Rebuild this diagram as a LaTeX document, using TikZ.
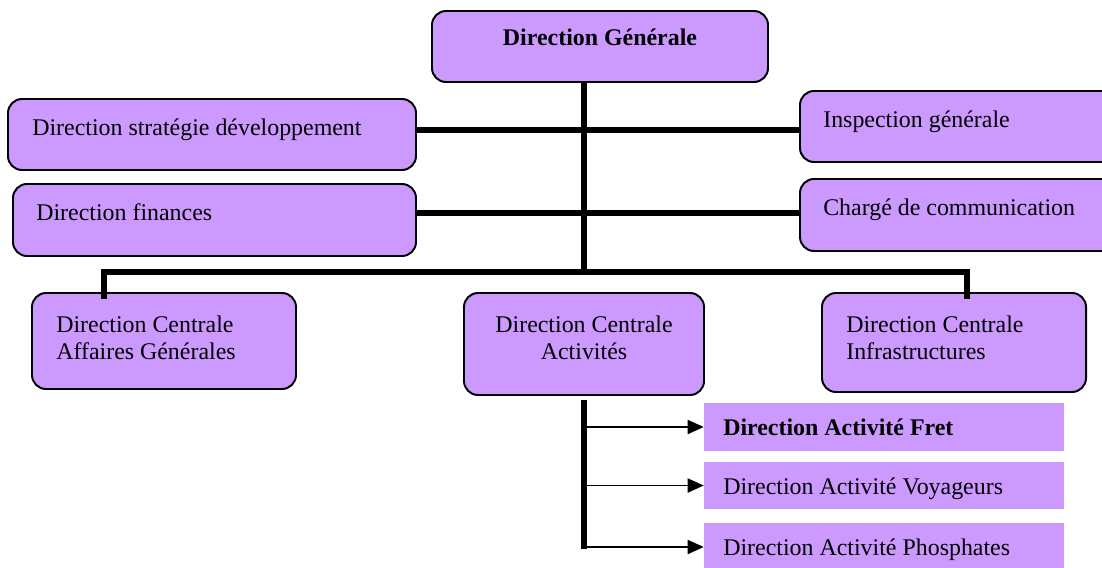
\documentclass[tikz,border=0pt]{standalone}
\usepackage{fontspec}
\setmainfont{Liberation Serif}
\usetikzlibrary{arrows.meta}
\definecolor{boxfill}{RGB}{204,153,255}
\def\pxu{0.025cm}
\tikzset{
  unit/.style={draw=black, line width=1.4pt, fill=boxfill, rounded corners=0.35cm, inner sep=0pt},
  sub/.style={fill=boxfill, draw=none, inner sep=0pt},
  txt/.style={font=\fontsize{17}{19.2}\selectfont, inner sep=0pt, anchor=base west, align=left},
  trunk/.style={line width=4pt},
  link/.style={line width=1.4pt, -{Triangle[length=11.5pt,width=10pt]}}
}
\begin{document}
\begin{tikzpicture}[x=0.025cm, y=-0.025cm]
                \useasboundingbox (0,0) rectangle (1102,567);
                % boxes
                \node[unit, minimum width=336*\pxu, minimum height=71*\pxu] (dg) at (600,46.5) {};
                \node[unit, minimum width=408*\pxu, minimum height=71*\pxu] (dsd) at (212,134.5) {};
                \node[unit, minimum width=403*\pxu, minimum height=72*\pxu] (df) at (214.5,220) {};
                \node[unit, minimum width=320*\pxu, minimum height=71*\pxu] (ig) at (960,126.5) {};
                \node[unit, minimum width=320*\pxu, minimum height=72*\pxu] (cc) at (960,215) {};
                \node[unit, minimum width=264*\pxu, minimum height=96*\pxu] (dcag) at (164,341) {};
                \node[unit, minimum width=240*\pxu, minimum height=102*\pxu] (dca) at (584,344) {};
                \node[unit, minimum width=264*\pxu, minimum height=99*\pxu] (dci) at (954,342.5) {};
                \node[sub, minimum width=360*\pxu, minimum height=48*\pxu] (fret) at (884,427) {};
                \node[sub, minimum width=360*\pxu, minimum height=47*\pxu] (voy) at (884,485.5) {};
                \node[sub, minimum width=360*\pxu, minimum height=48*\pxu] (pho) at (884,547) {};
                % texts
                \node[txt, anchor=base] (tdg) at (600,45) {\textbf{Direction Générale}};
                \node[txt] (tdsd) at (32,135) {Direction stratégie développement};
                \node[txt] (tdf) at (36,220) {Direction finances};
                \node[txt] (tig) at (823,127) {Inspection générale};
                \node[txt] (tcc) at (823,215) {Chargé de communication};
                \node[txt] (tdcag) at (56,359) {Direction Centrale\\Affaires Générales};
                \node[txt, anchor=base, align=center] (tdca) at (584,359) {Direction Centrale\\Activités};
                \node[txt] (tdci) at (846,359) {Direction Centrale\\Infrastructures};
                \node[txt] (tfret) at (723,435) {\textbf{Direction Activité Fret}};
                \node[txt] (tvoy) at (723,494) {Direction Activité Voyageurs};
                \node[txt] (tpho) at (723,555) {Direction Activité Phosphates};
                % links
                \coordinate (t) at (dca.north |- dg.south);
                \coordinate (r1) at (584,130);
                \coordinate (r2) at (584,213);
                \coordinate (hl) at (104,272);
                \coordinate (hr) at (967,272);
                \coordinate (b1) at (584,400);
                \coordinate (b2) at (584,549);
                \draw[trunk] (t) -- (t |- hl);
                \draw[trunk] (dsd.east |- r1) -- (ig.west |- r1);
                \draw[trunk] (df.east |- r2) -- (cc.west |- r2);
                \draw[trunk] ([yshift=-5pt]hl |- dcag.north) -- (hl) -- (hr) -- ([yshift=-5pt]hr |- dci.north);
                \draw[trunk] (b1) -- (b2);
                \draw[link] (b1 |- fret.west) -- (fret.west);
                \draw[link] (b1 |- voy.west) -- (voy.west);
                \draw[link] (b1 |- pho.west) -- (pho.west);
\end{tikzpicture}
\end{document}
